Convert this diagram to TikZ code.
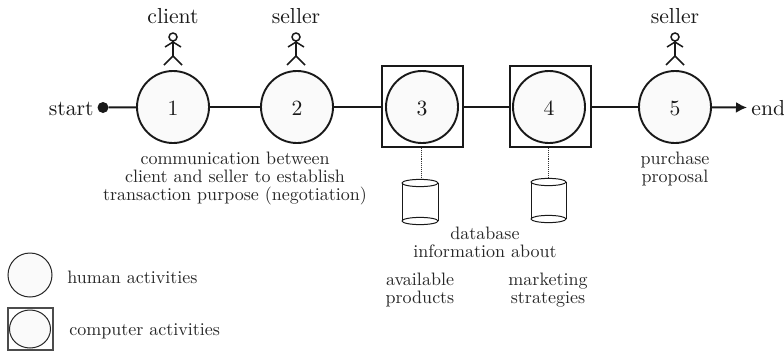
\documentclass[tikz,border=0pt]{standalone}
\usetikzlibrary{arrows.meta,shapes.geometric}
\tikzset{
  x=1pt,y=-1pt,
  lab/.style={scale=1.8,inner sep=0pt,anchor=base,text=black!85},
  big/.style={scale=2.17,inner sep=0pt,anchor=base,text=black!90},
  act/.style={circle,draw=black!90,line width=1.9pt,fill=black!2,minimum size=72pt,inner sep=0pt},
  sq/.style={rectangle,draw=black!90,line width=2pt,minimum size=81pt,inner sep=0pt},
  flow/.style={draw=black!90,line width=2pt},
  man/.style={draw=black!90,line width=1.5pt},
  can/.style={draw=black!90,line width=1pt,fill=white},
}
\newcommand{\actor}[1]{%
  \draw[man] (#1,37) circle[radius=4];
  \draw[man] (#1,41) -- (#1,56);
  \draw[man] (#1-8,47) -- (#1,42) -- (#1+8,47);
  \draw[man] (#1-9,65) -- (#1,56) -- (#1+9,65);
}
\newcommand{\cyl}[4]{% x1 x2 ytop ybottom
  \draw[can] (#1,#3) -- (#1,#4);
  \draw[can] (#2,#3) -- (#2,#4);
  \draw[can] ({(#1+#2)/2},#3) ellipse[x radius={(#2-#1)/2},y radius=3.6];
  \draw[can] ({(#1+#2)/2},#4) ellipse[x radius={(#2-#1)/2},y radius=3.6];
}
\begin{document}
\begin{tikzpicture}
\useasboundingbox (0,0) rectangle (784,354);
% squares
\node[sq] (s3) at (422,106.5) {};
\node[sq] (s4) at (550,106.5) {};
% circles
\node[act] (c1) at (173,107) {};
\node[act] (c2) at (297,107) {};
\node[act] (c3) at (422,107) {};
\node[act] (c4) at (549,107) {};
\node[act] (c5) at (675,107) {};
\node[big] (n1) at (173,115) {1};
\node[big] (n2) at (297,115) {2};
\node[big] (n3) at (422,115) {3};
\node[big] (n4) at (549,115) {4};
\node[big] (n5) at (675,115) {5};
% start / end
\node[circle,fill=black!90,minimum size=11pt,inner sep=0pt] (dot) at (103,107.5) {};
\coordinate (tip) at (747,107.5);
\draw[flow] (dot) -- (c1);
\draw[flow] (c1) -- (c2);
\draw[flow] (c2) -- (c3 -| s3.west);
\draw[flow] (c3 -| s3.east) -- (c4 -| s4.west);
\draw[flow] (c4 -| s4.east) -- (c5);
\draw[flow,-{Latex[length=11pt,width=11pt]}] (c5) -- (tip);
\node[big,anchor=base east] (start) at (94,115) {start};
\node[big,anchor=base west] (end) at (751,115) {end};
% actors
\actor{173}
\actor{296}
\actor{675}
\node[big] (who1) at (173,23) {client};
\node[big] (who2) at (296,23) {seller};
\node[big] (who5) at (675,23) {seller};
% texts
\node[lab] (t1) at (235,164) {communication between};
\node[lab] (t2) at (235,182) {client and seller to establish};
\node[lab] (t3) at (235,200) {transaction purpose (negotiation)};
\node[lab] (p1) at (675,164) {purchase};
\node[lab] (p2) at (675,182) {proposal};
% databases
\coordinate (d3) at (421,177);
\coordinate (d4) at (548,177);
\draw[black!80,line width=0.9pt,densely dotted] (s3.south -| d3) -- (d3);
\draw[black!80,line width=0.9pt,densely dotted] (s4.south -| d4) -- (d4);
\cyl{402}{438}{183}{221}
\cyl{531}{566}{182}{219}
\node[lab] (db) at (485,239) {database};
\node[lab] (ia) at (485,257) {information about};
\node[lab] (a1) at (420,285) {available};
\node[lab] (a2) at (420,303) {products};
\node[lab] (m1) at (548,285) {marketing};
\node[lab] (m2) at (548,303) {strategies};
% legend
\node[circle,draw=black!85,line width=1pt,fill=black!2,minimum size=44pt,inner sep=0pt] (lc) at (30,275) {};
\node[rectangle,draw=black!70,line width=1.2pt,minimum width=45pt,minimum height=42pt,inner sep=0pt] (ls) at (30.5,329) {};
\node[ellipse,draw=black!85,line width=1pt,fill=black!2,minimum width=41pt,minimum height=38pt,inner sep=0pt] (le) at (30,329) {};
\node[lab,anchor=base west] (lt1) at (67,283) {human activities};
\node[lab,anchor=base west] (lt2) at (69,335) {computer activities};
\end{tikzpicture}
\end{document}
